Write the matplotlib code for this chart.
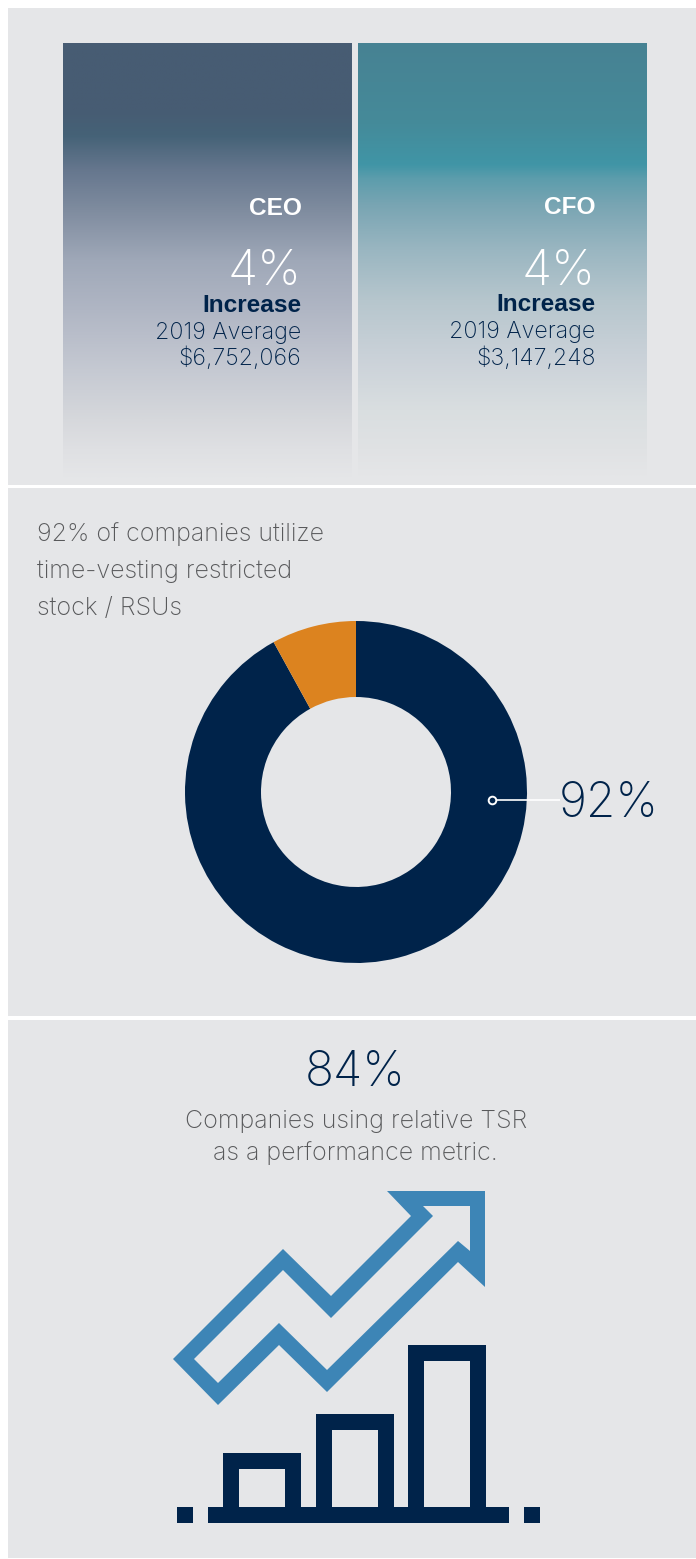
import matplotlib
matplotlib.use('Agg')
import matplotlib.pyplot as plt
import numpy as np
from matplotlib.colors import LinearSegmentedColormap
from matplotlib.patches import Rectangle, PathPatch
from matplotlib.path import Path

WIDTH, HEIGHT = 696, 1559
BG = '#e5e6e8'
NAVY = '#00234a'
BLUE = '#3d85b6'
ORANGE = '#dc831f'
GREY = '#58595b'

# pay summary columns
roles = ['CEO', 'CFO']
increases = ['4%', '4%']
averages = ['$6,752,066', '$3,147,248']

# donut values
share_labels = ['Time-vesting', 'Other']
share_values = [92, 8]

# gradient stops for the two columns (y position, colour)
ceo_stops = [(43, '#485c73'), (110, '#475c73'), (135, '#456277'), (170, '#66778e'),
             (210, '#7f8c9f'), (260, '#9fa8b8'), (310, '#b0b6c4'), (370, '#c5c9d2'),
             (420, '#d6d8dc'), (450, '#dfe0e3'), (478, BG)]
cfo_stops = [(43, '#478293'), (120, '#458a99'), (164, '#4095a6'), (178, '#5c9dac'),
             (205, '#79a5b3'), (250, '#9ab6c1'), (300, '#b6c6cd'), (360, '#cbd2d9'),
             (410, '#d9dee0'), (450, '#e0e2e4'), (476, BG)]

# icon outlines
arrow_outer = [(173, 1359), (283, 1249), (331, 1296), (411, 1216), (387, 1191), (485, 1191),
               (485, 1287), (458, 1262), (327, 1392), (279, 1345), (218, 1405)]
arrow_inner = [(194, 1359), (283, 1270), (331, 1318), (433, 1216), (423, 1206), (470, 1206),
               (470, 1251), (458, 1241), (327, 1370), (279, 1323), (218, 1383)]
icon_bar_left = [223, 316, 408]
icon_bar_top = [1453, 1414, 1345]


def pixel_axes(fig, zorder):
    a = fig.add_axes([0, 0, 1, 1], zorder=zorder)
    a.set_xlim(0, WIDTH)
    a.set_ylim(HEIGHT, 0)
    a.axis('off')
    return a


def gradient_column(ax, x0, x1, stops, y1):
    y0 = stops[0][0]
    pos = [(s[0] - y0) / (y1 - y0) for s in stops]
    cmap = LinearSegmentedColormap.from_list('col', list(zip(pos, [s[1] for s in stops])))
    grad = np.linspace(0, 1, 512).reshape(-1, 1)
    ax.imshow(grad, cmap=cmap, extent=(x0, x1, y1, y0), aspect='auto', zorder=1,
              interpolation='bilinear')
    ax.set_xlim(0, WIDTH)
    ax.set_ylim(HEIGHT, 0)


def light(ax, x, y, s, size, color, ha='right'):
    ax.text(x, y, s, fontsize=size, color=color, ha=ha, va='baseline', zorder=5,
            family='Inter', fontweight='light')


fig = plt.figure(figsize=(WIDTH / 100, HEIGHT / 100), dpi=100, facecolor='white')
back = pixel_axes(fig, 0)
ax = pixel_axes(fig, 2)

# three grey panels
for top, bottom in [(8, 485), (488, 1016), (1020, 1558)]:
    back.add_patch(Rectangle((8, top), WIDTH - 8, bottom - top, fc=BG, ec='none', zorder=0))

gradient_column(back, 63, 352, ceo_stops, 478)
gradient_column(back, 358, 647, cfo_stops, 476)

for i, (role, inc, avg) in enumerate(zip(roles, increases, averages)):
    x = [301.5, 595.5][i]
    dy = [0, -1][i]
    ax.text(x, 215 + dy, role, fontsize=17.6, color='white', ha='right', va='baseline',
            family='Liberation Sans', fontweight='bold', zorder=5)
    light(ax, x, 285, inc, 35.5, 'white')
    ax.text(x, 312 + dy, 'Increase', fontsize=17.6, color=NAVY, ha='right', va='baseline',
            family='Liberation Sans', fontweight='bold', zorder=5)
    light(ax, x, 339 + dy, '2019 Average', 16.7, NAVY)
    light(ax, x, 365, avg, 16.7, NAVY)

# middle panel heading
for y, line in zip([541, 578, 615], ['92% of companies utilize', 'time-vesting restricted',
                                     'stock / RSUs']):
    light(ax, 37, y, line, 18, GREY, ha='left')

# leader line and label for the donut
ax.plot([492, 560], [800, 800], color='white', lw=1.2, zorder=6, solid_capstyle='butt')
ax.plot([492], [800], 'o', ms=5.5, mfc=NAVY, mec='white', mew=1.4, zorder=7)
light(ax, 559, 817, '92%', 34.5, NAVY, ha='left')

# bottom panel text
light(ax, 355, 1086, '84%', 34.5, NAVY, ha='center')
light(ax, 356, 1128, 'Companies using relative TSR', 18, GREY, ha='center')
light(ax, 355, 1160, 'as a performance metric.', 18, GREY, ha='center')

# arrow drawn as outer outline with the inner shape cut out
verts = arrow_outer + [arrow_outer[0]] + arrow_inner[::-1] + [arrow_inner[-1]]
codes = ([Path.MOVETO] + [Path.LINETO] * (len(arrow_outer) - 1) + [Path.CLOSEPOLY]
         + [Path.MOVETO] + [Path.LINETO] * (len(arrow_inner) - 1) + [Path.CLOSEPOLY])
ax.add_patch(PathPatch(Path(verts, codes), fc=BLUE, ec='none', zorder=3))

# bar icon: hollow bars on a baseline with two end squares
base_top, base_bottom = 1507, 1523
for left, top in zip(icon_bar_left, icon_bar_top):
    for rect in [(left, top, 77, 15.5), (left, top, 15.5, base_top - top),
                 (left + 62, top, 15.5, base_top - top)]:
        ax.add_patch(Rectangle(rect[:2], rect[2], rect[3], fc=NAVY, ec='none', zorder=3))
for left, right in [(177, 193), (208, 509), (524, 540)]:
    ax.add_patch(Rectangle((left, base_top), right - left, base_bottom - base_top,
                           fc=NAVY, ec='none', zorder=3))

# donut on its own axes so the wedges keep the library's pie scale
cx, cy, r = 356, 792, 171
pie_ax = fig.add_axes([(cx - r) / WIDTH, 1 - (cy + r) / HEIGHT, 2 * r / WIDTH, 2 * r / HEIGHT],
                      zorder=1)
pie_ax.pie(share_values, colors=[NAVY, ORANGE], startangle=90, counterclock=False, radius=1,
           wedgeprops={'width': 76 / 171, 'linewidth': 0})
pie_ax.set_xlim(-1, 1)
pie_ax.set_ylim(-1, 1)

fig.savefig('out.png', dpi=100, facecolor='white')
